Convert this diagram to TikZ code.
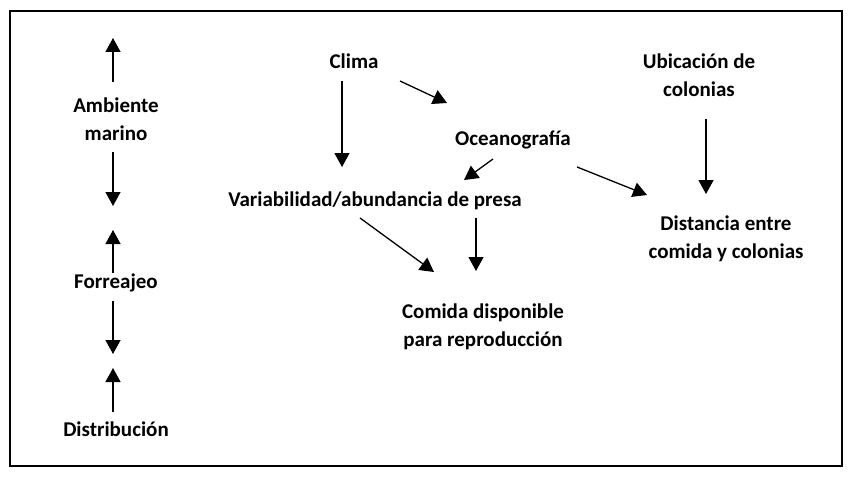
\documentclass[tikz,border=0pt]{standalone}
\usepackage{fontspec}
\setmainfont{Carlito}
\usetikzlibrary{arrows.meta}

\begin{document}
\begin{tikzpicture}[x=1pt,y=-1pt,
			etiqueta/.style={
				align=center,
				inner sep=0pt,
				font=\fontsize{21}{28.5}\selectfont\bfseries
			},
			flecha/.style={
				-{Triangle[length=14pt,width=15pt]},
				line width=1.3pt
			}
			]
			\useasboundingbox (0,0) rectangle (853,476);
			\draw[line width=1.6pt] (10,11) rectangle (842,466);
			
			% left column
			\node[etiqueta] (ambiente) at (116,119) {Ambiente\\marino};
			\node[etiqueta] (forreajeo) at (116,283) {Forreajeo};
			\node[etiqueta] (distribucion) at (116,429) {Distribución};
			
			% right part
			\node[etiqueta] (clima) at (354,61) {Clima};
			\node[etiqueta] (oceano) at (513,140) {Oceanografía};
			\node[etiqueta] (presa) at (375,201) {Variabilidad/abundancia de presa};
			\node[etiqueta] (ubicacion) at (699,75) {Ubicación de\\colonias};
			\node[etiqueta] (distancia) at (726,239) {Distancia entre\\comida y colonias};
			\node[etiqueta] (comida) at (483,327) {Comida disponible\\para reproducción};
			
			% arrow ends
			\coordinate (amb-a) at (113,82);
			\coordinate (amb-b) at (113,38);
			\coordinate (amb-c) at (113,152);
			\coordinate (amb-d) at (113,206);
			\coordinate (for-a) at (113,273);
			\coordinate (for-b) at (113,230);
			\coordinate (for-c) at (113,301);
			\coordinate (for-d) at (113,354);
			\coordinate (dis-a) at (113,412);
			\coordinate (dis-b) at (113,368);
			\coordinate (cli-a) at (342,81);
			\coordinate (cli-b) at (342,167);
			\coordinate (cli-c) at (400,81);
			\coordinate (cli-d) at (447,103);
			\coordinate (oce-a) at (493,159);
			\coordinate (oce-b) at (464,180);
			\coordinate (oce-c) at (577,167);
			\coordinate (oce-d) at (647,195);
			\coordinate (ubi-a) at (706,119);
			\coordinate (ubi-b) at (706,194);
			\coordinate (pre-a) at (360,218);
			\coordinate (pre-b) at (434,272);
			\coordinate (pre-c) at (476,218);
			\coordinate (pre-d) at (476,271);
			
			\draw[flecha] (amb-a) -- (amb-b);
			\draw[flecha] (amb-c) -- (amb-d);
			\draw[flecha] (for-a) -- (for-b);
			\draw[flecha] (for-c) -- (for-d);
			\draw[flecha] (dis-a) -- (dis-b);
			\draw[flecha] (cli-a) -- (cli-b);
			\draw[flecha] (cli-c) -- (cli-d);
			\draw[flecha] (oce-a) -- (oce-b);
			\draw[flecha] (oce-c) -- (oce-d);
			\draw[flecha] (ubi-a) -- (ubi-b);
			\draw[flecha] (pre-a) -- (pre-b);
			\draw[flecha] (pre-c) -- (pre-d);
			
		\end{tikzpicture}
\end{document}
